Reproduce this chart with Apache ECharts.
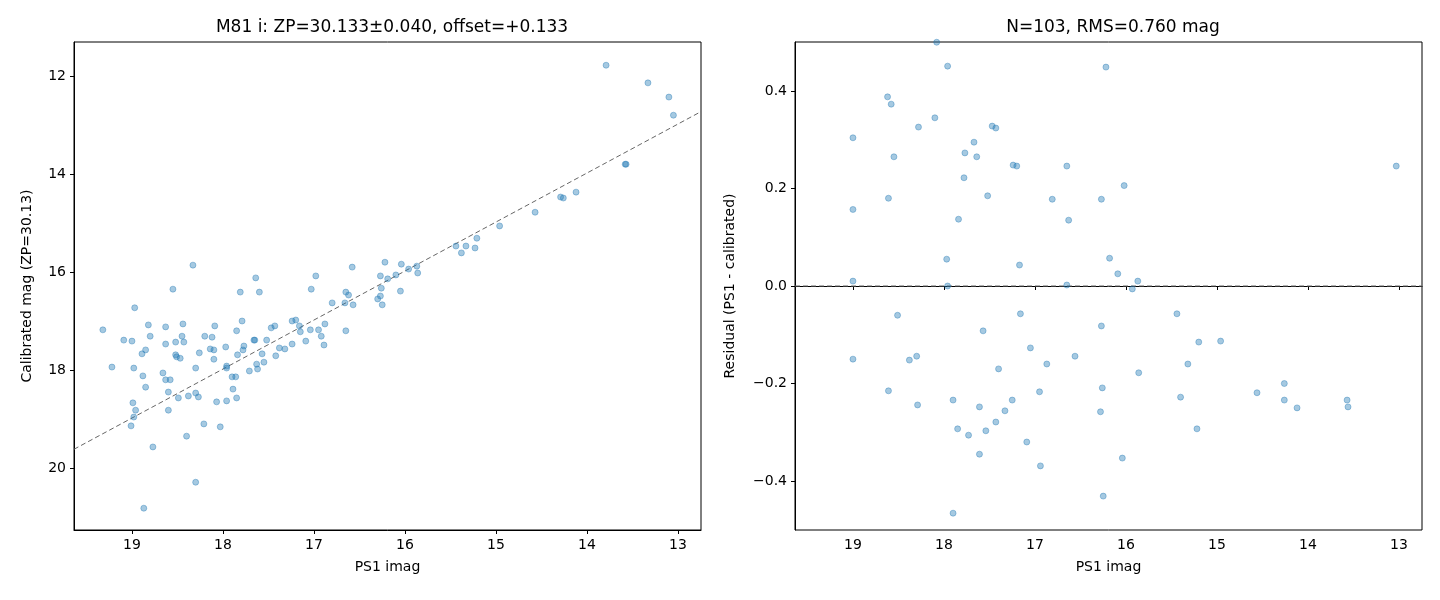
<!DOCTYPE html>
<html><head><meta charset="utf-8">
<script src="https://cdn.jsdelivr.net/npm/echarts@6/dist/echarts.min.js"></script>
<style>body{margin:0}#c{width:1440px;height:600px}</style></head>
<body><div id="c"></div>
<script>
// left panel: PS1 imag vs calibrated mag
var calX = [19.32,19.22,19.09,19.0,18.97,18.98,18.99,18.96,18.98,19.01,18.87,18.82,18.80,18.85,18.89,18.88,18.85,18.77,18.66,18.63,18.63,18.63,18.58,18.60,18.60,18.55,18.52,18.52,18.51,18.47,18.45,18.44,18.43,18.49,18.38,18.40,18.33,18.30,18.27,18.30,18.26,18.30,18.20,18.21,18.14,18.12,18.09,18.10,18.10,18.07,18.03,17.97,17.96,17.96,17.96,17.90,17.89,17.85,17.86,17.85,17.84,17.81,17.79,17.78,17.77,17.71,17.66,17.65,17.63,17.64,17.62,17.60,17.57,17.55,17.52,17.47,17.43,17.42,17.38,17.32,17.24,17.24,17.20,17.16,17.15,17.09,17.04,17.03,16.98,16.95,16.92,16.89,16.88,16.80,16.66,16.65,16.65,16.62,16.58,16.57,16.30,16.27,16.26,16.27,16.25,16.22,16.19,16.10,16.05,16.04,15.96,15.87,15.86,15.44,15.38,15.33,15.23,15.21,14.96,14.57,14.29,14.26,14.12,13.58,13.57,13.79,13.33,13.10,13.05];
var calY = [17.18,17.94,17.39,17.41,16.73,17.96,18.67,18.82,18.96,19.14,20.82,17.08,17.31,17.59,17.67,18.12,18.35,19.57,18.06,17.12,17.47,18.20,18.20,18.45,18.82,16.35,17.43,17.69,17.73,17.76,17.31,17.06,17.43,18.57,18.53,19.35,15.86,18.47,18.55,17.96,17.65,20.29,17.31,19.10,17.57,17.33,17.10,17.59,17.78,18.65,19.16,17.53,17.92,17.96,18.63,18.14,18.39,17.20,18.14,18.57,17.69,16.41,17.00,17.59,17.51,18.02,17.39,17.39,17.88,16.12,17.98,16.41,17.67,17.84,17.39,17.14,17.10,17.71,17.55,17.57,17.47,17.00,16.98,17.10,17.22,17.41,17.18,16.35,16.08,17.18,17.31,17.49,17.06,16.63,16.63,17.20,16.41,16.47,15.90,16.67,16.55,16.49,16.33,16.08,16.67,15.80,16.14,16.06,16.39,15.84,15.94,15.88,16.02,15.47,15.61,15.47,15.51,15.31,15.06,14.78,14.47,14.49,14.37,13.80,13.80,11.78,12.14,12.43,12.80];
var fitX = [19.637, 12.747];
var fitY = [19.617, 12.727];
// right panel: residuals
var resX = [19.0,19.0,19.0,19.0,18.62,18.58,18.55,18.61,18.51,18.61,18.38,18.30,18.28,18.29,18.10,18.08,17.96,17.97,17.96,17.84,17.78,17.77,17.67,17.64,17.52,17.47,17.43,17.24,17.20,17.17,16.65,16.65,16.81,16.63,16.27,16.02,16.18,16.09,15.93,15.87,16.27,17.16,17.57,17.05,16.87,16.56,17.40,17.90,17.61,17.25,16.95,16.26,15.86,17.33,17.85,17.73,17.54,17.43,16.28,17.61,17.09,16.94,16.04,17.90,16.25,16.22,15.44,15.32,15.40,15.20,15.22,14.96,14.56,14.26,14.26,14.12,13.57,13.56,13.03];
var resY = [0.304,0.157,0.01,-0.15,0.388,0.373,0.265,0.18,-0.06,-0.215,-0.152,-0.144,0.326,-0.244,0.345,0.50,0.451,0.055,0.0,0.137,0.222,0.273,0.295,0.265,0.185,0.328,0.324,0.248,0.246,0.043,0.246,0.002,0.178,0.135,0.178,0.206,0.057,0.025,-0.006,0.01,-0.082,-0.057,-0.092,-0.127,-0.16,-0.144,-0.17,-0.234,-0.248,-0.234,-0.217,-0.209,-0.178,-0.256,-0.293,-0.306,-0.297,-0.279,-0.258,-0.345,-0.32,-0.369,-0.353,-0.466,-0.431,0.449,-0.057,-0.16,-0.228,-0.115,-0.293,-0.113,-0.219,-0.2,-0.234,-0.25,-0.234,-0.248,0.246];
var zeroX = [19.637, 12.747];
var zeroY = [0, 0];
var magTicks = [19,18,17,16,15,14,13];
var calTicks = [12,14,16,18,20];
var resTicks = [-0.4,-0.2,0,0.2,0.4];

function zip(a, b) { return a.map(function (v, i) { return [v, b[i]]; }); }

var ff = 'DejaVu Sans';
var axLabel = { color: '#000', fontSize: 14, fontFamily: ff, margin: 8 };
var axTick = { show: true, inside: false, length: 4, lineStyle: { color: '#000' } };
var dash = { color: '#666', width: 1, type: [5, 3] };
var dot = { color: 'rgba(31,119,180,0.5)', borderColor: 'rgba(31,119,180,0.6)', borderWidth: 0.8 };

function xAx(idx) {
    return {
        type: 'value', gridIndex: idx, inverse: true, min: 12.747, max: 19.637,
        name: 'PS1 imag', nameLocation: 'middle', nameGap: 30,
        nameTextStyle: { color: '#000', fontSize: 14, fontFamily: ff },
        axisLine: { show: true, lineStyle: { color: '#000' } },
        axisTick: Object.assign({ customValues: magTicks }, axTick),
        axisLabel: Object.assign({ customValues: magTicks }, axLabel),
        splitLine: { show: false }
    };
}

var chart = echarts.init(document.getElementById('c'));
chart.setOption({
    animation: false,
    title: [
        { text: 'M81 i: ZP=30.133±0.040, offset=+0.133', left: 387, top: 14, textAlign: 'center',
          textStyle: { fontSize: 17, fontWeight: 'normal', fontFamily: ff, color: '#000' } },
        { text: 'N=103, RMS=0.760 mag', left: 1108, top: 14, textAlign: 'center',
          textStyle: { fontSize: 17, fontWeight: 'normal', fontFamily: ff, color: '#000' } }
    ],
    grid: [
        { left: 74, right: 739, top: 42, bottom: 70, show: true, borderColor: '#000', borderWidth: 1 },
        { left: 795, right: 18, top: 42, bottom: 70, show: true, borderColor: '#000', borderWidth: 1 }
    ],
    xAxis: [xAx(0), xAx(1)],
    yAxis: [
        {
            type: 'value', gridIndex: 0, inverse: true, min: 11.306, max: 21.265,
            name: 'Calibrated mag (ZP=30.13)', nameLocation: 'middle', nameGap: 40,
            nameTextStyle: { color: '#000', fontSize: 14, fontFamily: ff },
            axisLine: { show: true, lineStyle: { color: '#000' } },
            axisTick: Object.assign({ customValues: calTicks }, axTick),
            axisLabel: Object.assign({ customValues: calTicks }, axLabel),
            splitLine: { show: false }
        },
        {
            type: 'value', gridIndex: 1, min: -0.5005, max: 0.5005,
            name: 'Residual (PS1 - calibrated)', nameLocation: 'middle', nameGap: 58,
            nameTextStyle: { color: '#000', fontSize: 14, fontFamily: ff },
            axisLine: { show: true, lineStyle: { color: '#000' } },
            axisTick: Object.assign({ customValues: resTicks }, axTick),
            axisLabel: Object.assign({ customValues: resTicks, formatter: function (v) {
                return (v < 0 ? '\u2212' : '') + Math.abs(v).toFixed(1);
            } }, axLabel),
            splitLine: { show: false }
        }
    ],
    series: [
        { type: 'line', xAxisIndex: 0, yAxisIndex: 0, data: zip(fitX, fitY), symbol: 'none', lineStyle: dash, z: 1 },
        { type: 'scatter', xAxisIndex: 0, yAxisIndex: 0, data: zip(calX, calY), symbolSize: 6, itemStyle: dot, z: 2 },
        { type: 'line', xAxisIndex: 1, yAxisIndex: 1, data: zip(zeroX, zeroY), symbol: 'none', lineStyle: dash, z: 1 },
        { type: 'scatter', xAxisIndex: 1, yAxisIndex: 1, data: zip(resX, resY), symbolSize: 6, itemStyle: dot, z: 2 }
    ]
});
</script></body></html>
